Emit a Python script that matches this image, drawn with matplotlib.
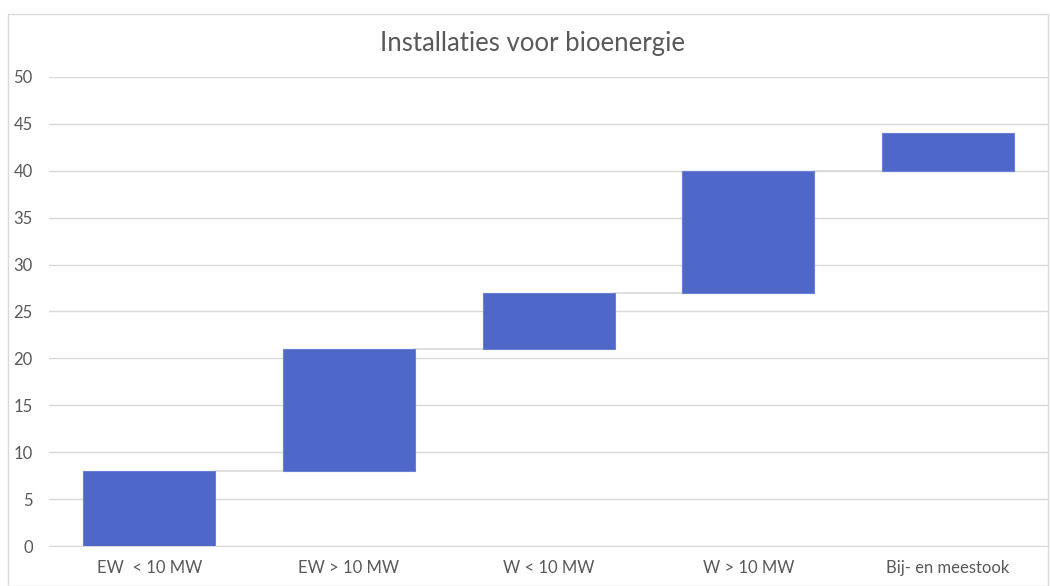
import matplotlib
matplotlib.use("Agg")
import matplotlib.pyplot as plt
from matplotlib.patches import Rectangle

# waterfall data
categories = ["EW  < 10 MW", "EW > 10 MW", "W < 10 MW", "W > 10 MW", "Bij- en meestook"]
increments = [8, 13, 6, 13, 4]

plt.rcParams['font.family'] = ['Lato', 'DejaVu Sans']

fig = plt.figure(figsize=(10.5, 5.86), dpi=100)
ax = fig.add_axes([0.047, 0.068, 0.951, 0.801])

# figure border
fig.patches.append(Rectangle((0.008, 0.0), 0.99, 0.976, transform=fig.transFigure,
                             fill=False, edgecolor="#d9d9d9", linewidth=1))

bottoms = []
total = 0
for v in increments:
    bottoms.append(total)
    total += v
tops = [b + v for b, v in zip(bottoms, increments)]

x = list(range(len(categories)))
ax.bar(x, increments, bottom=bottoms, width=0.66, color="#4f67c8",
       edgecolor="#6a80d6", linewidth=0.8, zorder=3)

# connector lines
for i in range(len(categories) - 1):
    ax.plot([i + 0.33, i + 1 - 0.33], [tops[i], tops[i]], color="#d9d9d9",
            linewidth=1.2, zorder=2)

ax.set_xlim(-0.5, len(categories) - 0.5)
ax.set_ylim(0, 50)
ax.set_yticks(range(0, 51, 5))
ax.set_xticks(x)
ax.set_xticklabels(categories)
ax.grid(axis="y", color="#d9d9d9", linewidth=1, zorder=0)
ax.set_axisbelow(True)
for s in ["top", "right", "left"]:
    ax.spines[s].set_visible(False)
ax.spines["bottom"].set_color("#d9d9d9")
ax.tick_params(axis="both", length=0, colors="#595959", labelsize=12, pad=10)
ax.tick_params(axis="y", pad=12)

fig.text(0.507, 0.925, "Installaties voor bioenergie", ha="center", va="center",
         fontsize=18.5, color="#595959")

fig.savefig("out.png", dpi=100)
